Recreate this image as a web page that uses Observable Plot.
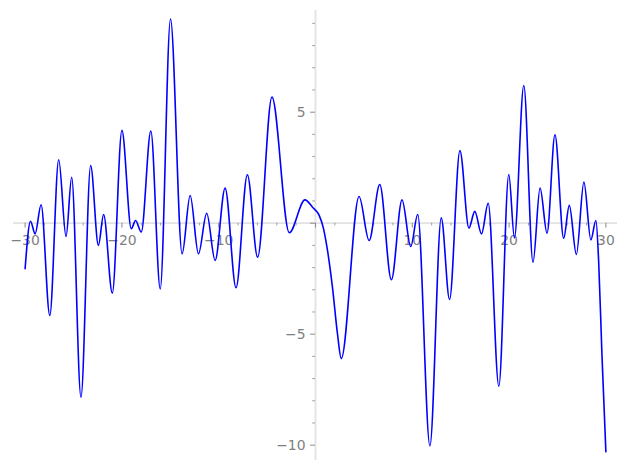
<!DOCTYPE html>
<html>
<head>
<meta charset="utf-8">
<script src="https://cdn.jsdelivr.net/npm/d3@7"></script>
<script src="https://cdn.jsdelivr.net/npm/@observablehq/plot@0.6"></script>
<style>
  html, body { margin: 0; padding: 0; background: #ffffff; }
  #chart svg { display: block; }
</style>
</head>
<body>
<div id="chart"></div>
<script>
// Curve samples (extrema and a few shape points)
const xs = [-30.0, -29.44, -28.97, -28.35, -27.45, -26.53, -25.77, -25.19, -24.23, -23.23,
  -22.43, -21.89, -20.99, -20.0, -19.03, -18.59, -18.0, -17.01, -16.04, -14.98,
  -13.78, -12.95, -12.09, -11.24, -10.37, -9.34, -8.21, -7.04, -5.98, -4.5,
  -2.71, -1.09, -0.31, 0.38, 0.79, 1.24, 1.75, 2.27, 2.66, 4.5,
  5.54, 6.64, 7.84, 8.94, 9.84, 10.56, 11.82, 12.99, 13.85, 14.92,
  15.85, 16.46, 17.15, 17.84, 18.94, 19.97, 20.55, 21.52, 22.47, 23.2,
  23.92, 24.74, 25.64, 26.22, 26.95, 27.73, 28.45, 28.97, 29.25, 29.6, 30.0];
const ys = [-2.05, 0.09, -0.48, 0.83, -4.16, 2.86, -0.60, 2.07, -7.84, 2.6,
  -1.0, 0.39, -3.15, 4.18, -0.25, 0.12, -0.4, 4.15, -2.96, 9.2,
  -1.38, 1.25, -1.38, 0.45, -1.68, 1.58, -2.91, 2.18, -1.53, 5.68,
  -0.43, 1.05, 0.72, 0.35, -0.18, -1.23, -2.88, -4.98, -6.1, 1.2,
  -0.78, 1.74, -2.55, 1.05, -1.05, 0.39, -10.03, 0.24, -3.44, 3.27,
  -0.22, 0.53, -0.48, 0.9, -7.34, 2.19, -0.66, 6.2, -1.76, 1.58,
  -0.45, 3.98, -0.68, 0.8, -1.41, 1.85, -0.75, 0.12, -1.68, -6.0, -10.3];

// Tick values
const xMajorTicks = [-30, -20, -10, 0, 10, 20, 30];
const xMinorTicks = [-28, -26, -24, -22, -18, -16, -14, -12, -8, -6, -4, -2,
  2, 4, 6, 8, 12, 14, 16, 18, 22, 24, 26, 28];
const xTickLabels = [-30, -20, -10, 10, 20, 30];
const yMajorTicks = [-10, -5, 0, 5];
const yMinorTicks = [-9, -8, -7, -6, -4, -3, -2, -1, 1, 2, 3, 4, 6, 7, 8, 9];
const yTickLabels = [-10, -5, 5];

const data = xs.map((x, i) => ({x, y: ys[i]}));

const W = 627, H = 470;
const mL = 13, mR = 10, mT = 10, mB = 10;
const xDomain = [-31.2, 31.2];
const yDomain = [-10.69, 9.58];
const pxX = (W - mL - mR) / (xDomain[1] - xDomain[0]);
const pxY = (H - mT - mB) / (yDomain[1] - yDomain[0]);
const majLen = 4.9, minLen = 2.8;
const tickColor = "#8a8a8a";
const labelColor = "#7f7f7f";
const spineColor = "#e2e2e2";
const fmt = d3.format("d");

const chart = Plot.plot({
  width: W,
  height: H,
  marginLeft: mL,
  marginRight: mR,
  marginTop: mT,
  marginBottom: mB,
  style: {fontFamily: "DejaVu Sans", fontSize: "13.9px", background: "#ffffff"},
  x: {domain: xDomain, axis: null},
  y: {domain: yDomain, axis: null},
  marks: [
    Plot.ruleY([0], {stroke: spineColor, strokeWidth: 1.8}),
    Plot.ruleX([0], {stroke: spineColor, strokeWidth: 1.8}),
    Plot.ruleX(xMajorTicks, {x: d => d, y1: 0, y2: -majLen / pxY, stroke: tickColor, strokeWidth: 1}),
    Plot.ruleX(xMinorTicks, {x: d => d, y1: 0, y2: -minLen / pxY, stroke: tickColor, strokeWidth: 0.8}),
    Plot.ruleY(yMajorTicks, {y: d => d, x1: 0, x2: -majLen / pxX, stroke: tickColor, strokeWidth: 1}),
    Plot.ruleY(yMinorTicks, {y: d => d, x1: 0, x2: -minLen / pxX, stroke: tickColor, strokeWidth: 0.8}),
    Plot.text(xTickLabels, {x: d => d, y: 0, text: d => fmt(d), dy: 17, lineAnchor: "middle", textAnchor: "middle", fill: labelColor, fontSize: 13.9}),
    Plot.text(yTickLabels, {x: 0, y: d => d, text: d => fmt(d), dx: -10, lineAnchor: "middle", textAnchor: "end", fill: labelColor, fontSize: 13.9}),
    Plot.line(data, {x: "x", y: "y", curve: "monotone-x", stroke: "#0000ff", strokeWidth: 1.6})
  ]
});
document.getElementById("chart").append(chart);
</script>
</body>
</html>
